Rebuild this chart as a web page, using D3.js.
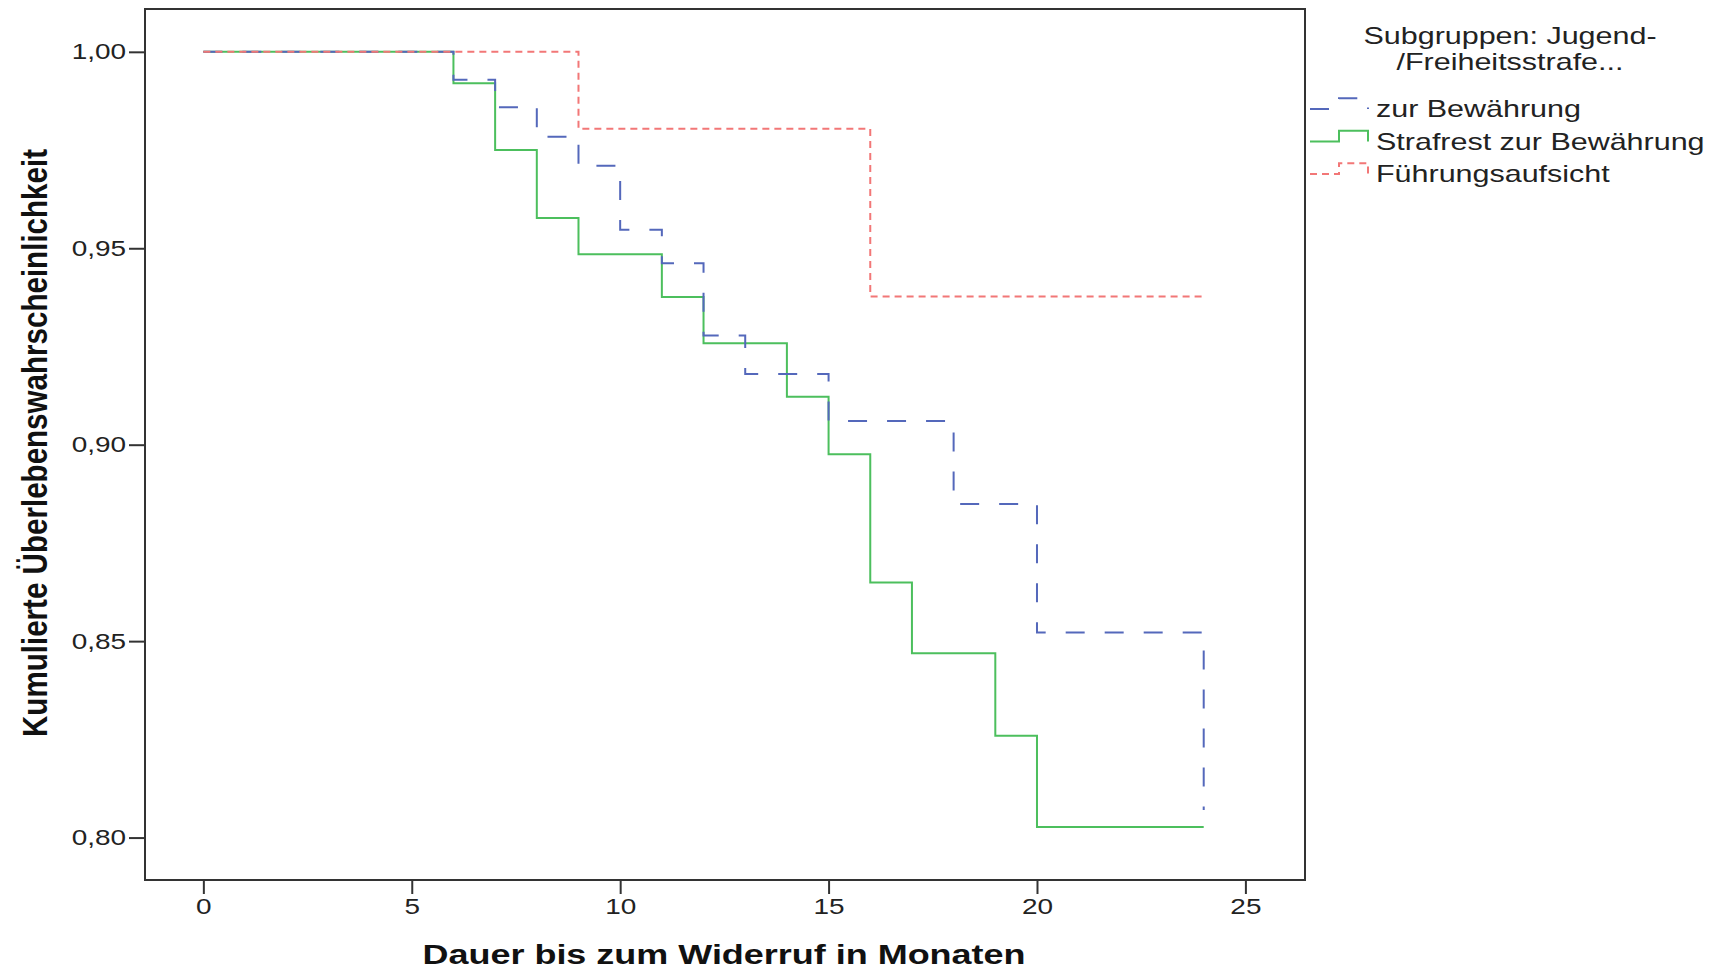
<!DOCTYPE html>
<html><head><meta charset="utf-8">
<script src="https://cdn.jsdelivr.net/npm/d3@7"></script>
<style>html,body{margin:0;padding:0;background:#fff;} svg{display:block;}</style>
</head><body><svg id="chart" width="1730" height="969"></svg>
<script>
// ---- data ----
const seriesNames = ["zur Bewährung", "Strafrest zur Bewährung", "Führungsaufsicht"];
const blueMonths   = [0, 6, 7, 8, 9, 10, 11, 12, 13, 15, 18, 20, 24];
const blueSurvival = [1.00, 0.9929, 0.9859, 0.9784, 0.9710, 0.9547, 0.9462, 0.9278, 0.9180, 0.9060, 0.8849, 0.8522, 0.807];
const greenMonths   = [0, 6, 7, 8, 9, 11, 12, 14, 15, 16, 17, 19, 20, 24];
const greenSurvival = [1.00, 0.9920, 0.9750, 0.9577, 0.9485, 0.9376, 0.9258, 0.9122, 0.8976, 0.8649, 0.8469, 0.8259, 0.8027, 0.8027];
const redMonths   = [0, 9, 16, 24];
const redSurvival = [1.00, 0.9804, 0.9377, 0.9377];
const xTicks = [0, 5, 10, 15, 20, 25];
const yTicks = [0.80, 0.85, 0.90, 0.95, 1.00];
const legendTitleLines = ["Subgruppen: Jugend-", "/Freiheitsstrafe..."];
const xTitle = "Dauer bis zum Widerruf in Monaten";
const yTitle = "Kumulierte Überlebenswahrscheinlichkeit";

// ---- layout ----
const SX = 1.27; // horizontal text stretch
const frame = {left: 145, top: 9, right: 1305, bottom: 880};
const svg = d3.select("#chart");
const x = d3.scaleLinear().domain([-1.4, 26.43]).range([frame.left, frame.right]);
const y = d3.scaleLinear().domain([0.7892, 1.0109]).range([frame.bottom, frame.top]);
const de = d3.formatLocale({decimal: ",", thousands: ".", grouping: [3], currency: ["", "€"]});
const fmt = de.format(".2f");

const series = [
  {name: seriesNames[1], months: greenMonths, vals: greenSurvival, color: "#4cbf5d", dash: null},
  {name: seriesNames[0], months: blueMonths, vals: blueSurvival, color: "#5468bb", dash: "19,20"},
  {name: seriesNames[2], months: redMonths, vals: redSurvival, color: "#f27777", dash: "7,5"}
];

// frame
svg.append("rect").attr("x", frame.left).attr("y", frame.top)
  .attr("width", frame.right - frame.left).attr("height", frame.bottom - frame.top)
  .attr("fill", "none").attr("stroke", "#333").attr("stroke-width", 2);

// axes
const yAxis = svg.append("g").attr("transform", `translate(${frame.left},0)`)
  .call(d3.axisLeft(y).tickValues(yTicks).tickFormat(fmt).tickSize(16).tickSizeOuter(0).tickPadding(3));
const xAxis = svg.append("g").attr("transform", `translate(0,${frame.bottom})`)
  .call(d3.axisBottom(x).tickValues(xTicks).tickFormat(d3.format("d")).tickSize(14).tickSizeOuter(0).tickPadding(4));
[yAxis, xAxis].forEach(g => {
  g.select(".domain").remove();
  g.selectAll(".tick line").attr("stroke", "#333").attr("stroke-width", 2);
  g.selectAll(".tick text").attr("fill", "#222").attr("font-family", "'Liberation Sans', Arial, sans-serif").attr("font-size", 22);
});
yAxis.selectAll(".tick text").attr("x", -19 / SX).attr("transform", `scale(${SX},1)`);
xAxis.selectAll(".tick text").attr("transform", `scale(${SX},1)`);

// lines
const line = d3.line().x(d => x(d[0])).y(d => y(d[1])).curve(d3.curveStepAfter);
series.forEach(s => {
  const pts = s.months.map((m, i) => [m, s.vals[i]]);
  svg.append("path").attr("d", line(pts)).attr("fill", "none")
    .attr("stroke", s.color).attr("stroke-width", 2)
    .attr("stroke-dasharray", s.dash);
});

// titles
svg.append("text").attr("transform", `translate(724,964) scale(${SX},1)`)
  .attr("text-anchor", "middle").attr("font-family", "'Liberation Sans', Arial, sans-serif")
  .attr("font-weight", "bold").attr("font-size", 28).attr("fill", "#111")
  .attr("textLength", 603 / SX).attr("lengthAdjust", "spacingAndGlyphs").text(xTitle);
svg.append("text").attr("transform", `translate(46.5,443) scale(${SX},1) rotate(-90)`)
  .attr("text-anchor", "middle").attr("font-family", "'Liberation Sans', Arial, sans-serif")
  .attr("font-weight", "bold").attr("font-size", 28).attr("fill", "#111")
  .attr("textLength", 588).attr("lengthAdjust", "spacingAndGlyphs").text(yTitle);

// legend
const legFont = "'Liberation Sans', Arial, sans-serif";
legendTitleLines.forEach((t, i) => {
  svg.append("text").attr("transform", `translate(1510,${44 + i * 26}) scale(${SX},1)`)
    .attr("text-anchor", "middle").attr("font-family", legFont).attr("font-size", 24)
    .attr("fill", "#222").text(t);
});
const legendOrder = [series[1], series[0], series[2]];
const legBase = [117, 149.5, 182];
legendOrder.forEach((s, i) => {
  const low = legBase[i] - 8, high = low - 10.7;
  svg.append("path").attr("d", `M1310,${low}H1339V${high}H1368V${low}`)
    .attr("fill", "none").attr("stroke", s.color).attr("stroke-width", 2)
    .attr("stroke-dasharray", s.dash);
  svg.append("text").attr("transform", `translate(1376,${legBase[i]}) scale(${SX},1)`)
    .attr("font-family", legFont).attr("font-size", 24).attr("fill", "#222").text(s.name);
});
</script></body></html>
